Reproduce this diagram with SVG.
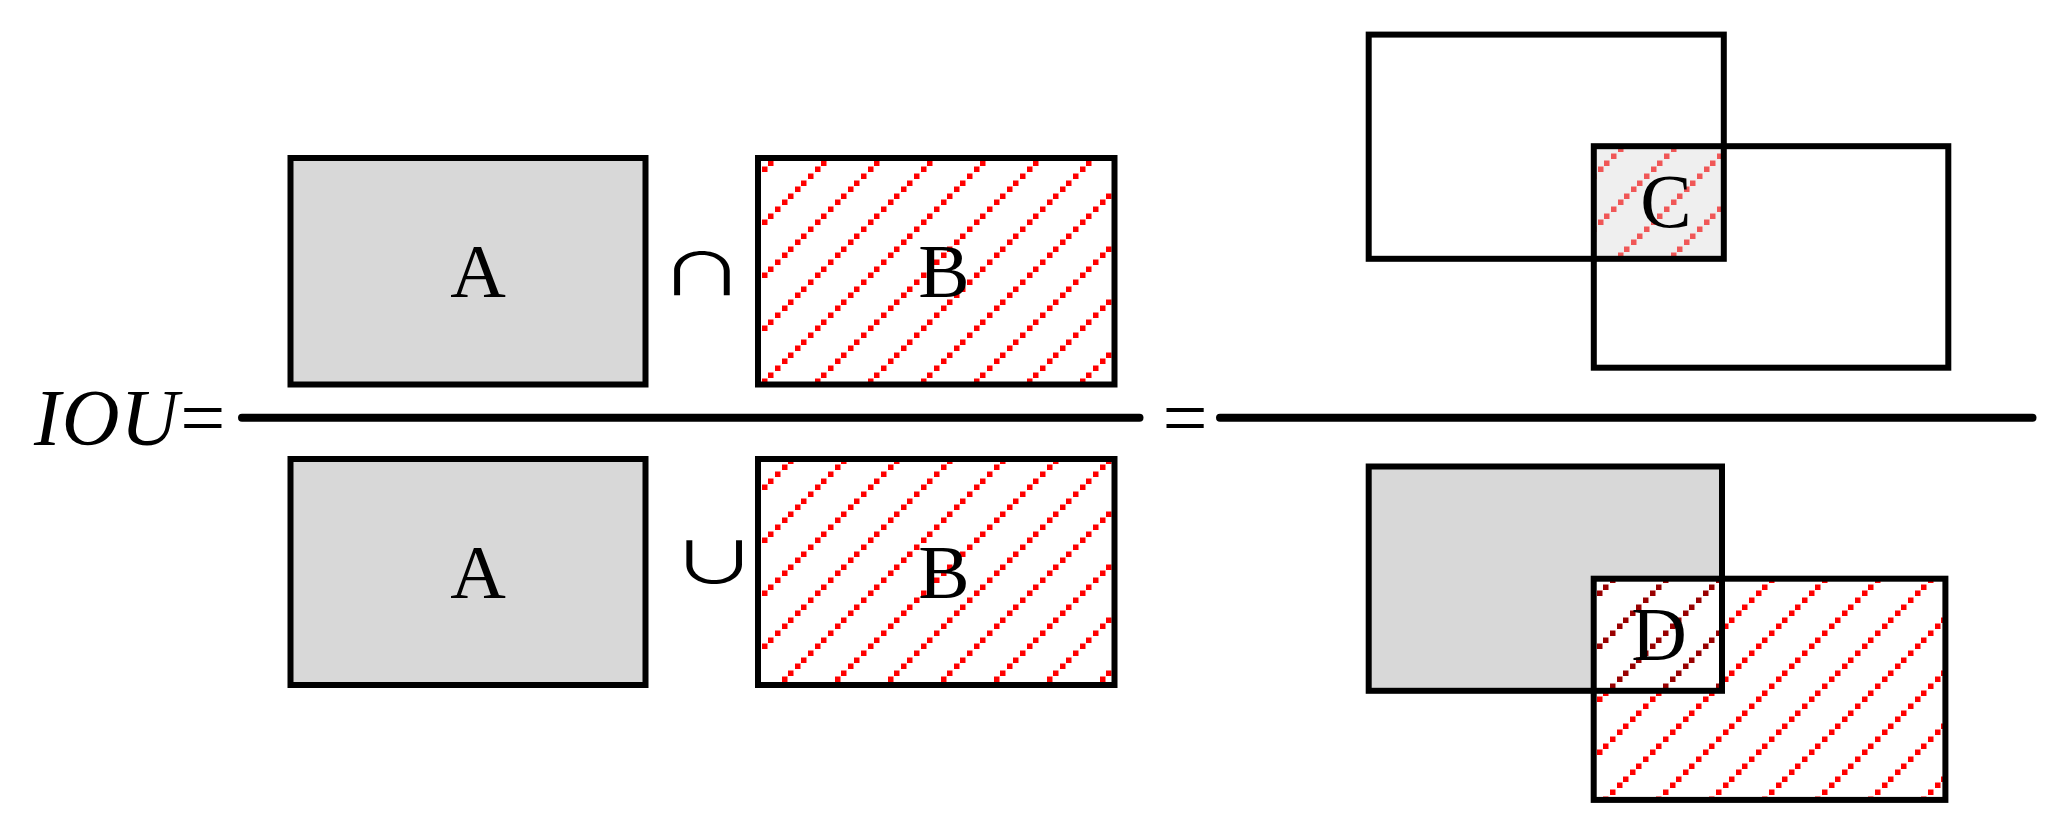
<svg xmlns="http://www.w3.org/2000/svg" width="2067" height="835" viewBox="0 0 2067 835">
<style>
  .outline { fill: none; stroke: #000; stroke-width: 6; }
  .gray { fill: #d8d8d8; }
  .white { fill: #fff; }
  .lbl { font-family: "Liberation Serif", "Times New Roman", serif; font-size: 77px; fill: #000; text-anchor: middle; }
  .math { font-family: "Liberation Serif", "Times New Roman", serif; font-size: 80px; fill: #000; }
  .op { font-family: "Noto Sans CJK SC", "DejaVu Serif", serif; font-size: 58px; fill: #000; text-anchor: middle; }
  .bar { stroke: #000; stroke-width: 8; stroke-linecap: round; fill: none; }
</style>
<defs>
  <path id="sq" d="M0 47.5h5.5v5.5h-5.5zM7 40.5h5.5v5.5h-5.5zM13 34.5h5.5v5.5h-5.5zM20 27.5h5.5v5.5h-5.5zM26 21.5h5.5v5.5h-5.5zM33 14.5h5.5v5.5h-5.5zM40 7.5h5.5v5.5h-5.5zM46 1.5h5.5v5.5h-5.5z"/>
  <pattern id="hatchB" patternUnits="userSpaceOnUse" width="53" height="53" patternTransform="translate(33 0)">
    <use href="#sq" fill="#ff0000"/>
  </pattern>
  <pattern id="hatchC" patternUnits="userSpaceOnUse" width="53" height="53" patternTransform="translate(21 0)">
    <use href="#sq" fill="#f05757"/>
  </pattern>
  <pattern id="hatchH" patternUnits="userSpaceOnUse" width="53" height="53" patternTransform="translate(20 0)">
    <use href="#sq" fill="#ff0000"/>
  </pattern>
  <pattern id="hatchD" patternUnits="userSpaceOnUse" width="53" height="53" patternTransform="translate(20 0)">
    <use href="#sq" fill="#990000"/>
  </pattern>
</defs>
<rect width="2067" height="835" fill="#fff"/>

<g id="iou-label">
  <text class="math" x="34" y="445" letter-spacing="1"><tspan font-style="italic">IOU</tspan><tspan dx="1">=</tspan></text>
</g>

<g id="node-A-top">
  <rect class="gray" x="290.5" y="158" width="355" height="226.5"/>
  <rect class="outline" x="290.5" y="158" width="355" height="226.5"/>
  <text class="lbl" x="478" y="297">A</text>
</g>
<g id="op-intersection">
  <text class="op" transform="translate(702 295) scale(1.49 1)">∩</text>
</g>
<g id="node-B-top">
  <rect class="white" x="758" y="158" width="356.5" height="226.5"/>
  <rect fill="url(#hatchB)" x="758" y="158" width="356.5" height="226.5"/>
  <rect class="outline" x="758" y="158" width="356.5" height="226.5"/>
  <text class="lbl" x="944" y="297">B</text>
</g>

<g id="node-A-bottom">
  <rect class="gray" x="290.5" y="459" width="355" height="226"/>
  <rect class="outline" x="290.5" y="459" width="355" height="226"/>
  <text class="lbl" x="478" y="598">A</text>
</g>
<g id="op-union">
  <text class="op" transform="translate(714.2 584) scale(1.49 1)">∪</text>
</g>
<g id="node-B-bottom">
  <rect class="white" x="758" y="459" width="356.5" height="226"/>
  <rect fill="url(#hatchB)" x="758" y="459" width="356.5" height="226"/>
  <rect class="outline" x="758" y="459" width="356.5" height="226"/>
  <text class="lbl" x="944" y="598">B</text>
</g>

<g id="fraction-bars">
  <line class="bar" x1="242" y1="417.8" x2="1139.5" y2="417.8"/>
  <text class="math" x="1185" y="445" text-anchor="middle">=</text>
  <line class="bar" x1="1220" y1="417.8" x2="2032.5" y2="417.8"/>
</g>

<g id="node-intersection-C">
  <rect fill="#efefef" x="1593.8" y="146.2" width="130" height="112.6"/>
  <rect fill="url(#hatchC)" x="1593.8" y="146.2" width="130" height="112.6"/>
  <rect class="outline" x="1368.7" y="34.6" width="355.1" height="224.2"/>
  <rect class="outline" x="1593.8" y="146.2" width="354.5" height="221.5"/>
  <text class="lbl" x="1666" y="226.5">C</text>
</g>

<g id="node-union-D">
  <rect class="gray" x="1368.7" y="466.5" width="353.3" height="224.3"/>
  <rect class="white" x="1593.7" y="578.7" width="351.7" height="221.2"/>
  <rect fill="url(#hatchH)" x="1593.7" y="578.7" width="351.7" height="221.2"/>
  <rect class="white" x="1593.7" y="578.7" width="128.3" height="112.1"/>
  <rect fill="url(#hatchD)" x="1593.7" y="578.7" width="128.3" height="112.1"/>
  <rect class="outline" x="1368.7" y="466.5" width="353.3" height="224.3"/>
  <rect class="outline" x="1593.7" y="578.7" width="351.7" height="221.2"/>
  <text class="lbl" x="1659" y="659.5">D</text>
</g>
</svg>
